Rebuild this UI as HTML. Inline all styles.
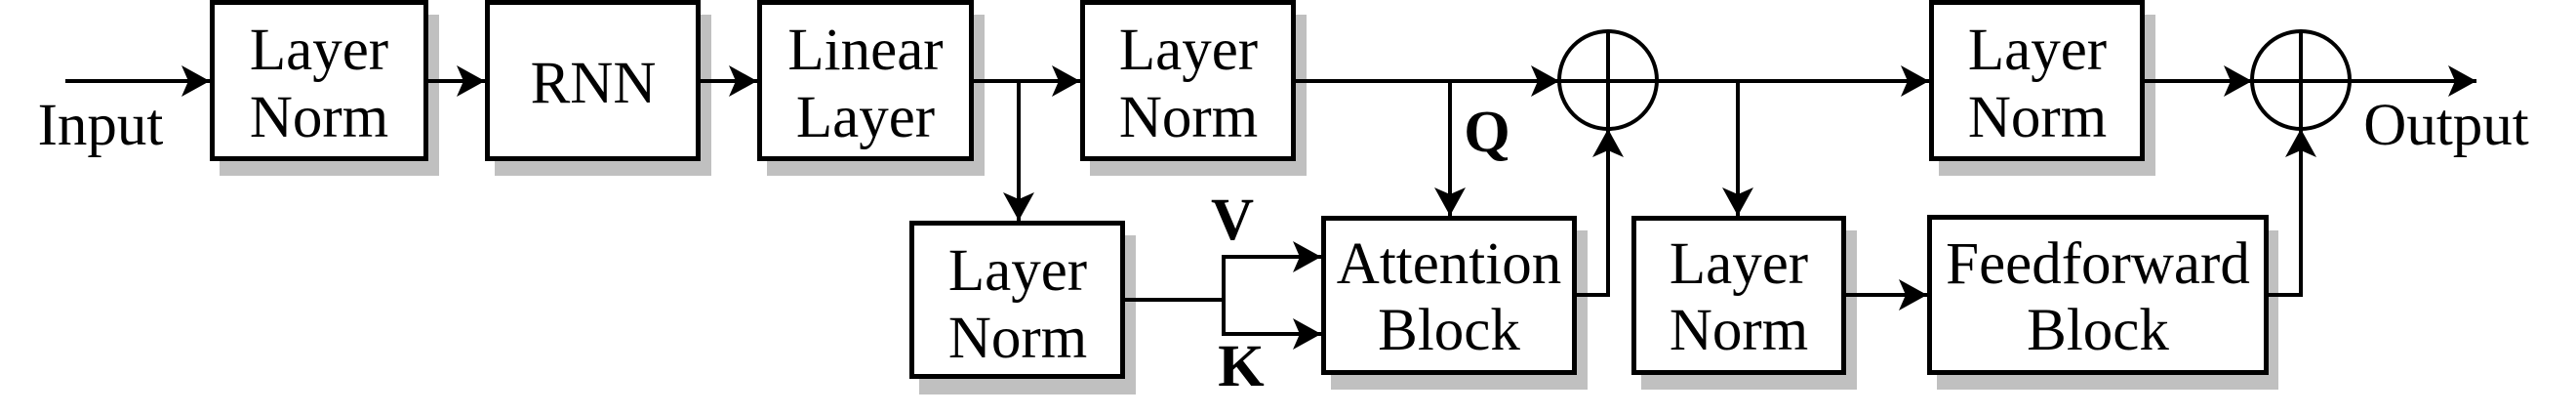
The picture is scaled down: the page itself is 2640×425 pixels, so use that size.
<!DOCTYPE html>
<html><head><meta charset="utf-8"><style>
html,body{margin:0;padding:0;background:#fff;}
svg{display:block;}
svg text{font-family:"Liberation Serif","Times New Roman","DejaVu Serif",serif;font-size:61px;fill:#000;text-anchor:middle;}
.b{font-weight:bold;}
</style></head><body>
<svg width="2640" height="425" viewBox="0 0 2640 425" xmlns="http://www.w3.org/2000/svg">
<defs>
<marker id="a" markerUnits="userSpaceOnUse" markerWidth="32" markerHeight="34" refX="29" refY="16" orient="auto">
<path d="M0,0 L29,16 L0,32 L7,16 Z" fill="#000"/>
</marker>
</defs>
<g fill="#c0c0c0">
<rect x="225" y="15" width="225" height="165"/>
<rect x="507" y="15" width="222" height="165"/>
<rect x="786" y="15" width="223" height="165"/>
<rect x="1117" y="15" width="222" height="165"/>
<rect x="1987" y="15" width="222" height="165"/>
<rect x="942" y="241" width="222" height="163"/>
<rect x="1364" y="236" width="263" height="163"/>
<rect x="1682" y="236" width="221" height="163"/>
<rect x="1985" y="236" width="350" height="163"/>
</g>
<g fill="#fff" stroke="#000" stroke-width="5">
<rect x="217.5" y="2.5" width="219" height="160"/>
<rect x="499.5" y="2.5" width="216" height="160"/>
<rect x="778.5" y="2.5" width="217" height="160"/>
<rect x="1109.5" y="2.5" width="216" height="160"/>
<rect x="1979.5" y="2.5" width="216" height="160"/>
<rect x="934.5" y="228.5" width="216" height="157"/>
<rect x="1356.5" y="223.5" width="257" height="158"/>
<rect x="1674.5" y="223.5" width="215" height="158"/>
<rect x="1977.5" y="222.5" width="345" height="159"/>
</g>
<g fill="none" stroke="#000" stroke-width="4">
<circle cx="1648" cy="82" r="50"/>
<circle cx="2358" cy="82" r="50"/>
<line x1="1648" y1="32" x2="1648" y2="132"/>
<line x1="2358" y1="32" x2="2358" y2="132"/>
<line x1="1598" y1="83" x2="1698" y2="83"/>
<line x1="2308" y1="83" x2="2408" y2="83"/>
</g>
<g fill="none" stroke="#000" stroke-width="4" marker-end="url(#a)">
<line x1="67" y1="83" x2="215" y2="83"/>
<line x1="439" y1="83" x2="497" y2="83"/>
<line x1="718" y1="83" x2="776" y2="83"/>
<line x1="998" y1="83" x2="1107" y2="83"/>
<line x1="1044" y1="83" x2="1044" y2="226"/>
<line x1="1328" y1="83" x2="1598" y2="83"/>
<line x1="1486" y1="83" x2="1486" y2="221"/>
<polyline points="1153,307 1254,307 1254,263 1354,263"/>
<polyline points="1254,307 1254,342 1354,342"/>
<polyline points="1616,302 1648,302 1648,132"/>
<line x1="1698" y1="83" x2="1977" y2="83"/>
<line x1="1781" y1="83" x2="1781" y2="221"/>
<line x1="1892" y1="302" x2="1975" y2="302"/>
<line x1="2198" y1="83" x2="2308" y2="83"/>
<polyline points="2325,302 2358,302 2358,132"/>
<line x1="2408" y1="83" x2="2538" y2="83"/>
</g>
<g>
<text x="103" y="148">Input</text>
<text x="327" y="71">Layer</text><text x="327" y="140">Norm</text>
<text x="608" y="105">RNN</text>
<text x="887" y="71">Linear</text><text x="887" y="140">Layer</text>
<text x="1218" y="71">Layer</text><text x="1218" y="140">Norm</text>
<text x="2088" y="71">Layer</text><text x="2088" y="140">Norm</text>
<text x="2507" y="148">Output</text>
<text x="1043" y="297">Layer</text><text x="1043" y="366">Norm</text>
<text x="1485" y="290">Attention</text><text x="1485" y="358">Block</text>
<text x="1782" y="290">Layer</text><text x="1782" y="358">Norm</text>
<text x="2150" y="290">Feedforward</text><text x="2150" y="358">Block</text>
<text class="b" x="1263" y="245">V</text>
<text class="b" x="1272" y="395">K</text>
<text class="b" x="1524" y="155">Q</text>
</g>
</svg>
</body></html>
